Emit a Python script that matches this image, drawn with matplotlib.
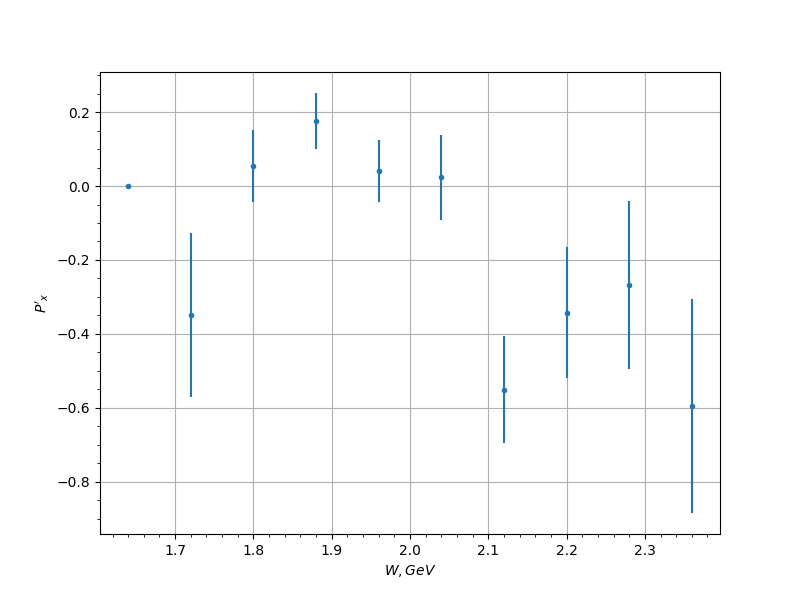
import matplotlib
matplotlib.use("Agg")
import matplotlib.pyplot as plt

W = [1.64, 1.72, 1.80, 1.88, 1.96, 2.04, 2.12, 2.20, 2.28, 2.36]
Px = [0.0, -0.349, 0.054, 0.176, 0.041, 0.024, -0.551, -0.343, -0.268, -0.595]
Px_err = [0.0, 0.223, 0.097, 0.076, 0.085, 0.115, 0.145, 0.177, 0.227, 0.29]

fig, ax = plt.subplots(figsize=(8, 6), dpi=100)
ax.errorbar(W, Px, yerr=Px_err, fmt='.')
ax.set_xlabel("$W, GeV$")
ax.set_ylabel("$P'_x$")
ax.grid(True)
ax.minorticks_on()
fig.savefig("out.png")
